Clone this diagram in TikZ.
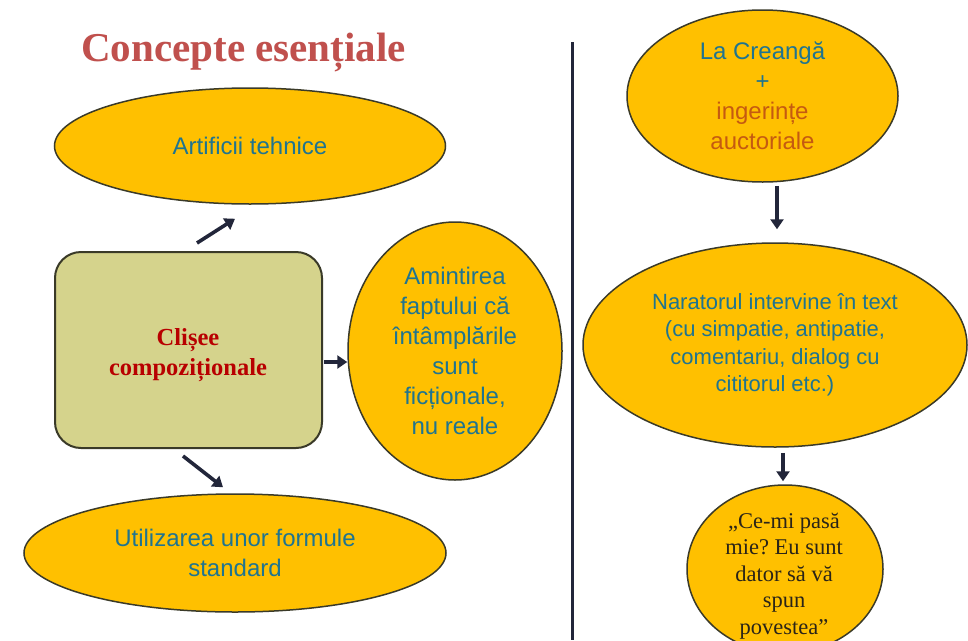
\documentclass[tikz,border=0pt]{standalone}
\usepackage{fontspec}
\setmainfont{Liberation Serif}
\setsansfont{Liberation Sans}
\usetikzlibrary{shapes.geometric,arrows.meta,calc}
\frenchspacing
\definecolor{goldfill}{HTML}{FFC000}
\definecolor{edgec}{HTML}{3A3A28}
\definecolor{tealtxt}{HTML}{1F7490}
\definecolor{orangetxt}{HTML}{C55A11}
\definecolor{titlec}{HTML}{C0504D}
\definecolor{darkred}{HTML}{B80000}
\definecolor{olivefill}{HTML}{D5D38C}
\definecolor{arrowc}{HTML}{22263A}
\definecolor{quotec}{HTML}{2A2418}
\tikzset{
  oval/.style={ellipse, draw=edgec, line width=1.5pt, fill=goldfill, inner sep=0pt, align=center,
    font=\sffamily\fontsize{24}{30}\selectfont, text=tealtxt},
  arr/.style={draw=arrowc, line width=3.6pt, -{Triangle[length=10pt,width=13pt]}},
  sepline/.style={draw=arrowc, line width=3pt}
}
\begin{document}
\begin{tikzpicture}[x=1pt,y=-1pt]
\useasboundingbox[fill=white] (0,0) rectangle (968,640);
% title
\node[anchor=base, text=titlec, font=\bfseries\fontsize{41}{46}\selectfont] (title) at (243.5,61) {Concepte esențiale};
% left column
\node[oval, minimum width=391pt, minimum height=116pt] (artif) at (250,146) {Artificii tehnice};
\node[draw=edgec, line width=2pt, fill=olivefill, rounded corners=26pt, minimum width=267pt, minimum height=196pt] (clise) at (188.5,350) {};
\node[align=center, text=darkred, font=\bfseries\fontsize{24.5}{30}\selectfont] (clisetxt) at (188,355) {Clișee\\compoziționale};
\node[oval, minimum width=214pt, minimum height=258pt] (amint) at (455,351)
  {Amintirea\\faptului că\\întâmplările\\sunt\\ficționale,\\nu reale};
\node[oval, minimum width=422pt, minimum height=118pt] (util) at (235,553) {Utilizarea unor formule\\standard};
% connectors left
\path (clise.north) ++(8.5,-8) coordinate (a1s);
\path (artif.south) ++(-15,14) coordinate (a1e);
\draw[arr] (a1s) -- (a1e);
\draw[arr] ([yshift=-12pt,xshift=1pt]clise.east) -- ([yshift=-12pt]clise.east -| amint.west);
\path (clise.south) ++(-5.5,7) coordinate (a3s);
\path (util.north) ++(-12,-6) coordinate (a3e);
\draw[arr] (a3s) -- (a3e);
% separator
\coordinate (sepTop) at (572,42);
\coordinate (sepBot) at (572,640);
\draw[sepline] (sepTop) -- (sepBot);
% right column
\node[oval, minimum width=271pt, minimum height=172pt] (creanga) at (762.5,96)
  {La Creangă\\+\\\textcolor{orangetxt}{ingerințe}\\\textcolor{orangetxt}{auctoriale}};
\node[oval, minimum width=384pt, minimum height=204pt, font=\sffamily\fontsize{22}{27.5}\selectfont] (narator) at (775,345)
  {Naratorul intervine în text\\(cu simpatie, antipatie,\\comentariu, dialog cu\\cititorul etc.)};
\node[oval, minimum width=196pt, minimum height=168pt] (cemi) at (785,569) {};
\node[align=center, text=quotec, font=\rmfamily\fontsize{22.5}{26.5}\selectfont] (cemitxt) at (784,576)
  {„Ce-mi pasă\\mie? Eu sunt\\dator să vă\\spun\\povestea”};
% connectors right
\path (creanga.south) ++(14.5,3) coordinate (a4s);
\draw[arr] (a4s) -- ($(a4s |- narator.north)+(0,-13)$);
\path (narator.south) ++(8,5) coordinate (a5s);
\draw[arr] (a5s) -- ($(a5s |- cemi.north)+(0,-3)$);
\end{tikzpicture}
\end{document}
